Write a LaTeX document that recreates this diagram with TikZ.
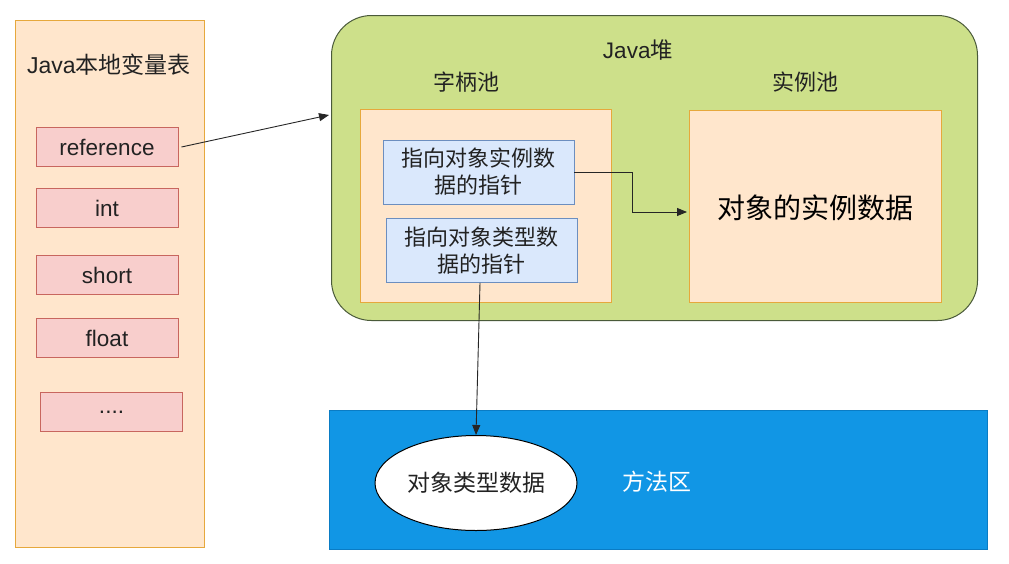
\documentclass[tikz,border=0pt]{standalone}
\usepackage{fontspec}
\setmainfont{Liberation Sans}
\newfontfamily\cjk{Noto Sans CJK SC}
\usetikzlibrary{arrows.meta,shapes.geometric}
\definecolor{peach}{HTML}{FFE6CC}
\definecolor{peachline}{HTML}{E6A83C}
\definecolor{pinkfill}{HTML}{F8CECC}
\definecolor{pinkline}{HTML}{C8665E}
\definecolor{heapfill}{HTML}{CDE08A}
\definecolor{heapline}{HTML}{4A5A3A}
\definecolor{bluefill}{HTML}{DAE8FC}
\definecolor{blueline}{HTML}{6C8EBF}
\definecolor{methodfill}{HTML}{1196E5}
\definecolor{methodline}{HTML}{0A7CC4}
\definecolor{txt}{HTML}{222222}
\tikzset{
  panel/.style={draw=peachline, fill=peach, line width=1pt},
  varbox/.style={draw=pinkline, fill=pinkfill, line width=0.9pt, minimum width=142pt, minimum height=39pt, inner sep=0pt, font=\fontsize{22.5}{24}\selectfont, text=txt},
  ptrbox/.style={draw=blueline, fill=bluefill, line width=0.9pt, minimum width=191pt, minimum height=64pt, inner sep=0pt, align=center, font=\cjk\fontsize{22}{27}\selectfont, text=txt},
  lbl/.style={font=\cjk\fontsize{22}{24}\selectfont, text=txt, inner sep=0pt},
  conn/.style={line width=0.9pt, draw=black!85, -{Triangle[length=10pt,width=8pt]}}
}
\begin{document}
\begin{tikzpicture}[x=1pt,y=-1pt]
\useasboundingbox (0,0) rectangle (1009,563);
% left panel
\node[panel, minimum width=189pt, minimum height=527pt, inner sep=0pt, anchor=north west] (local) at (15,20) {};
\node[font=\fontsize{23}{25}\selectfont, text=txt, inner sep=0pt] (localt) at (109,65) {Java{\cjk 本地变量表}};
\node[varbox] (ref) at (107,147) {reference};
\node[varbox] (int) at (107,208) {int};
\node[varbox] (short) at (107,275) {short};
\node[varbox] (float) at (107,338) {float};
\node[varbox] (more) at (111.5,412) {....};
% heap
\node[draw=heapline, fill=heapfill, line width=1pt, rounded corners=40pt, minimum width=646pt, minimum height=305pt, inner sep=0pt, anchor=north west] (heap) at (331,15) {};
\node[font=\fontsize{22.5}{24}\selectfont, text=txt, inner sep=0pt] (heapt) at (638,50) {Java{\cjk 堆}};
\node[lbl] (hpt) at (466,82) {字柄池};
\node[lbl] (ipt) at (805,82) {实例池};
\node[panel, minimum width=251pt, minimum height=193pt, inner sep=0pt, anchor=north west] (hpool) at (360,109) {};
\node[panel, minimum width=252pt, minimum height=192pt, inner sep=0pt, anchor=north west] (ipool) at (689,110) {};
\node[ptrbox] (p1) at (478.5,172) {指向对象实例数\\据的指针};
\node[ptrbox] (p2) at (481.5,250.5) {指向对象类型数\\据的指针};
\node[font=\cjk\fontsize{28}{32}\selectfont, text=black, inner sep=0pt] (inst) at (815,208) {对象的实例数据};
% method area
\node[draw=methodline, fill=methodfill, line width=1pt, minimum width=658pt, minimum height=139pt, inner sep=0pt, anchor=north west] (method) at (329,410) {};
\node[font=\cjk\fontsize{23}{25}\selectfont, text=white, inner sep=0pt] (mt) at (657,482) {方法区};
\node[ellipse, draw=black, fill=white, line width=1pt, minimum width=202pt, minimum height=95pt, inner sep=0pt, font=\cjk\fontsize{23}{25}\selectfont, text=txt] (type) at (476,483) {对象类型数据};
% connectors
\coordinate (heapin) at (329,115);
\draw[conn] (ref.east) ++(3pt,0) -- (heapin);
\coordinate (bend1) at (632,172);
\coordinate (bend2) at (632,212);
\coordinate (iin) at (687,212);
\draw[conn] (p1.east) -- (bend1) -- (bend2) -- (iin);
\draw[conn] (p2.south -| 480,0) -- (type.north);
\end{tikzpicture}
\end{document}
